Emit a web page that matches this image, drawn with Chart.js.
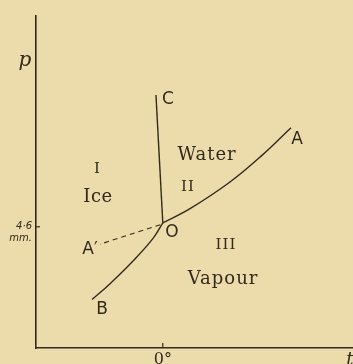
<!DOCTYPE html>
<html><head><meta charset="utf-8">
<script src="https://cdn.jsdelivr.net/npm/chart.js@4/dist/chart.umd.min.js"></script>
<style>
html,body{margin:0;padding:0;background:#ecdcab;}
#wrap{width:353px;height:364px;}
</style></head>
<body><div id="wrap"><canvas id="c" width="353" height="364"></canvas></div>
<script>
// Curve O–A (vaporisation), t and p values
const curveOA_t = [0, 2.15, 5.30, 7.82, 10.11];
const curveOA_p = [4.75, 5.29, 6.30, 7.31, 8.36];
// Curve O–B (sublimation)
const curveOB_t = [0, -0.77, -2.35, -4.16, -5.58];
const curveOB_p = [4.75, 4.16, 3.30, 2.44, 1.84];
// Line O–C (fusion)
const lineOC_t = [0, -0.54];
const lineOC_p = [4.75, 9.6];
// Dashed O–A' (supercooled water)
const lineOAp_t = [-0.2, -4.95];
const lineOAp_p = [4.68, 3.94];
// Tick values and labels
const xTickValues = [0];
const xTickLabels = ["0°"];
const yTickValues = [4.6];
const yTickLabels = [["4·6", "mm."]];
// Annotation texts and their data positions
const labelTexts = ["p", "C", "Water", "A", "I", "Ice", "II", "O", "A′", "B", "III", "Vapour", "t"];
const labelT     = [-10.87, 0.41, 3.49, 10.58, -5.19, -5.11, 1.99, 0.73, -5.74, -4.79, 4.98, 4.75, 14.76];
const labelP     = [10.91, 9.41, 7.31, 7.91, 6.79, 5.70, 6.11, 4.39, 3.75, 1.46, 3.90, 2.62, -0.45];

const INK = '#33291c';
const labelFonts = {
  "p": 'italic 20px "DejaVu Serif"',
  "t": 'italic 18px "DejaVu Serif"',
  "C": '17px "DejaVu Sans"', "A": '17px "DejaVu Sans"', "O": '17px "DejaVu Sans"',
  "A′": '17px "DejaVu Sans"', "B": '17px "DejaVu Sans"',
  "Water": '18px "DejaVu Serif"', "Ice": '18px "DejaVu Serif"', "Vapour": '18px "DejaVu Serif"',
  "I": '15px "DejaVu Serif"', "II": '15px "DejaVu Serif"', "III": '15px "DejaVu Serif"'
};
const labelSpacing = {"Water": '1px', "Vapour": '1px', "Ice": '0.5px', "II": '1px', "III": '1px'};

const pts = (ts, ps) => ts.map((t, i) => ({x: t, y: ps[i]}));

const bgPlugin = {
  id: 'bg',
  beforeDraw(chart) {
    const ctx = chart.ctx;
    ctx.save();
    ctx.fillStyle = '#ecdcab';
    ctx.fillRect(0, 0, chart.width, chart.height);
    ctx.restore();
  }
};

const annoPlugin = {
  id: 'anno',
  afterDraw(chart) {
    const ctx = chart.ctx, xs = chart.scales.x, ys = chart.scales.y;
    ctx.save();
    ctx.fillStyle = INK;
    ctx.textAlign = 'center';
    ctx.textBaseline = 'middle';
    labelTexts.forEach((txt, i) => {
      ctx.font = labelFonts[txt];
      ctx.letterSpacing = labelSpacing[txt] || '0px';
      ctx.fillText(txt, xs.getPixelForValue(labelT[i]), ys.getPixelForValue(labelP[i]));
    });
    ctx.letterSpacing = '0px';
    // inward tick marks
    ctx.strokeStyle = INK;
    ctx.lineWidth = 1.2;
    const ca = chart.chartArea;
    xTickValues.forEach(v => {
      const px = xs.getPixelForValue(v);
      ctx.beginPath(); ctx.moveTo(px, ca.bottom); ctx.lineTo(px, ca.bottom - 5); ctx.stroke();
    });
    yTickValues.forEach(v => {
      const py = ys.getPixelForValue(v);
      ctx.beginPath(); ctx.moveTo(ca.left, py); ctx.lineTo(ca.left + 4, py); ctx.stroke();
    });
    ctx.restore();
  }
};

const lineStyle = {showLine: true, pointRadius: 0, borderColor: INK, borderWidth: 1.4, fill: false};

new Chart(document.getElementById('c'), {
  type: 'scatter',
  data: {
    datasets: [
      Object.assign({data: pts(curveOA_t, curveOA_p), tension: 0.4}, lineStyle),
      Object.assign({data: pts(curveOB_t, curveOB_p), tension: 0.4}, lineStyle),
      Object.assign({data: pts(lineOC_t, lineOC_p), tension: 0}, lineStyle),
      Object.assign({data: pts(lineOAp_t, lineOAp_p), tension: 0, borderDash: [5, 4]}, lineStyle, {borderWidth: 1.1})
    ]
  },
  options: {
    responsive: false,
    animation: false,
    devicePixelRatio: 1,
    layout: {padding: {top: 12, right: 0, left: 0, bottom: 0}},
    plugins: {legend: {display: false}, tooltip: {enabled: false}},
    scales: {
      x: {
        type: 'linear', min: -10, max: 15,
        afterBuildTicks: s => { s.ticks = xTickValues.map(v => ({value: v})); },
        afterFit: s => { s.height = 16; },
        grid: {display: true, drawOnChartArea: false, drawTicks: false},
        border: {display: true, color: INK, width: 1.6},
        ticks: {
          padding: 2, color: INK, font: {family: 'DejaVu Serif', size: 16},
          maxRotation: 0, autoSkip: false,
          callback: (v) => xTickLabels[xTickValues.indexOf(v)]
        }
      },
      y: {
        type: 'linear', min: 0, max: 12.6,
        afterBuildTicks: s => { s.ticks = yTickValues.map(v => ({value: v})); },
        afterFit: s => { s.width = 36; },
        grid: {display: true, drawOnChartArea: false, drawTicks: false},
        border: {display: true, color: INK, width: 1.6},
        ticks: {
          padding: 4, color: INK, labelOffset: 6,
          font: {family: 'DejaVu Sans', size: 10, style: 'italic', lineHeight: 1.2},
          autoSkip: false,
          callback: (v) => yTickLabels[yTickValues.indexOf(v)]
        }
      }
    }
  },
  plugins: [bgPlugin, annoPlugin]
});
</script>
</body></html>
